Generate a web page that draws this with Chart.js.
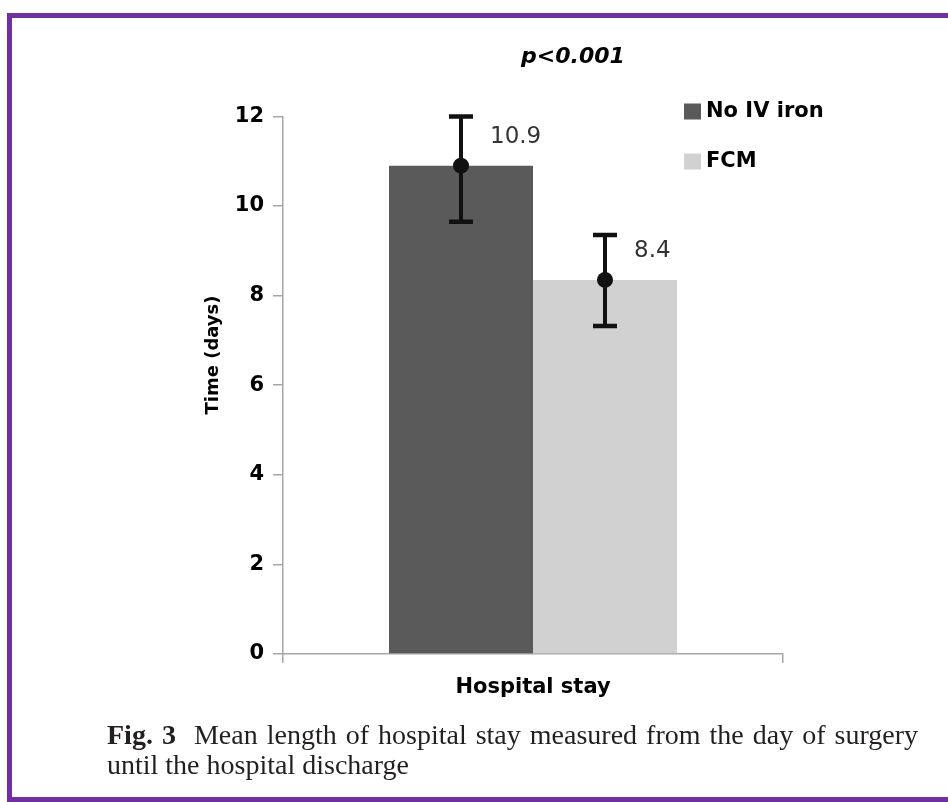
<!DOCTYPE html>
<html>
<head>
<meta charset="utf-8">
<script src="https://cdn.jsdelivr.net/npm/chart.js@4.4.1/dist/chart.umd.min.js"></script>
<style>
  html, body { margin: 0; padding: 0; background: #ffffff; }
  #wrap { position: relative; width: 948px; height: 802px; overflow: hidden; background: #fff; }
  #frame { position: absolute; left: 7px; top: 13px; width: 960px; height: 779px;
           border-top: 5px solid #7030a0; border-left: 5px solid #7030a0; border-bottom: 5px solid #7030a0; }
  canvas { position: absolute; left: 0; top: 0; }
  #caption { position: absolute; left: 107px; top: 720px; width: 811px;
             font-family: "Liberation Serif", "Times New Roman", serif; font-size: 28px; line-height: 30px;
             color: #231f20; }
  #caption .l1 { text-align: justify; text-align-last: justify; white-space: normal; }
  #caption .l2 { text-align: left; }
  #caption b { font-weight: bold; }
</style>
</head>
<body>
<div id="wrap">
  <div id="frame"></div>
  <canvas id="c" width="948" height="802"></canvas>
  <div id="caption"><div class="l1"><b>Fig. 3</b>&nbsp; Mean length of hospital stay measured from the day of surgery</div><div class="l2">until the hospital discharge</div></div>
</div>
<script>
// ---- data ----
const categories = ["Hospital stay"];
const seriesNames = ["No IV iron", "FCM"];
const meanValues = [10.9, 8.35];
const valueLabels = ["10.9", "8.4"];
const errorLow = [9.65, 7.32];
const errorHigh = [12.0, 9.35];
const yTicks = [0, 2, 4, 6, 8, 10, 12];
const pTitle = "p<0.001";
const yTitle = "Time (days)";

const seriesColors = ["#5a5a5a", "#d0d1d0"];
const FONT = "'DejaVu Sans', sans-serif";

const errorBarPlugin = {
  id: "errorBars",
  afterDatasetsDraw(chart) {
    const ctx = chart.ctx;
    const yScale = chart.scales.y;
    chart.data.datasets.forEach((ds, i) => {
      const meta = chart.getDatasetMeta(i);
      meta.data.forEach((bar, j) => {
        const x = bar.x;
        const yLo = yScale.getPixelForValue(ds.errLow[j]);
        const yHi = yScale.getPixelForValue(ds.errHigh[j]);
        const yMean = yScale.getPixelForValue(ds.data[j]);
        ctx.save();
        ctx.strokeStyle = "#111";
        ctx.lineWidth = 4;
        ctx.beginPath();
        ctx.moveTo(x, yLo); ctx.lineTo(x, yHi);
        ctx.stroke();
        ctx.lineWidth = 4.5;
        ctx.beginPath();
        ctx.moveTo(x - 12, yLo); ctx.lineTo(x + 12, yLo);
        ctx.moveTo(x - 12, yHi); ctx.lineTo(x + 12, yHi);
        ctx.stroke();
        ctx.fillStyle = "#111";
        ctx.beginPath();
        ctx.arc(x, yMean, 8, 0, Math.PI * 2);
        ctx.fill();
        // value label
        ctx.fillStyle = "#333";
        ctx.font = "23px " + FONT;
        ctx.textAlign = "left";
        ctx.textBaseline = "middle";
        ctx.fillText(ds.valueLabels[j], x + 29, bar.y - 29);
        ctx.restore();
      });
    });
    // legend
    ctx.save();
    chart.data.datasets.forEach((ds, i) => {
      const cy = 111.5 + i * 50;
      ctx.fillStyle = ds.backgroundColor;
      ctx.fillRect(684, cy - 8, 17, 16);
      ctx.fillStyle = "#000";
      ctx.font = "bold 21px " + FONT;
      ctx.textAlign = "left";
      ctx.textBaseline = "middle";
      ctx.fillText(ds.label, 706, cy);
    });
    // y axis title
    ctx.translate(213, 355);
    ctx.rotate(-Math.PI / 2);
    ctx.fillStyle = "#000";
    ctx.font = "bold 18px " + FONT;
    ctx.textAlign = "center";
    ctx.textBaseline = "middle";
    ctx.fillText(yTitle, 0, 0);
    ctx.restore();
  }
};

new Chart(document.getElementById("c"), {
  type: "bar",
  data: {
    labels: categories,
    datasets: seriesNames.map((name, i) => ({
      label: name,
      data: [meanValues[i]],
      errLow: [errorLow[i]],
      errHigh: [errorHigh[i]],
      valueLabels: [valueLabels[i]],
      backgroundColor: seriesColors[i],
      borderWidth: 0,
      categoryPercentage: 0.576,
      barPercentage: 1.0
    }))
  },
  options: {
    responsive: false,
    devicePixelRatio: 1,
    animation: false,
    layout: { padding: { left: 198, right: 0, top: 0, bottom: 0 } },
    plugins: {
      legend: { display: false },
      tooltip: { enabled: false },
      title: {
        display: true,
        text: pTitle,
        font: { family: FONT, size: 22, weight: "bold", style: "italic" },
        color: "#000",
        padding: { top: 44, bottom: 46 }
      }
    },
    scales: {
      x: {
        offset: true,
        grid: { display: true, drawOnChartArea: false, tickLength: 9, color: "#a6a6a6", lineWidth: 1.5 },
        border: { display: true, color: "#a6a6a6", width: 1.5 },
        ticks: { font: { family: FONT, size: 21, weight: "bold" }, color: "#000", padding: 12 },
        afterFit(s) { s.height = 148; }
      },
      y: {
        min: 0, max: 12,
        afterBuildTicks(s) { s.ticks = yTicks.map(v => ({ value: v })); },
        grid: { display: true, drawOnChartArea: false, tickLength: 10, color: "#a6a6a6", lineWidth: 1.5 },
        border: { display: true, color: "#a6a6a6", width: 1.5 },
        ticks: { font: { family: FONT, size: 21, weight: "bold" }, color: "#000", padding: 9 },
        afterFit(s) { s.width = 85; }
      },
      spacer: {
        type: "linear",
        position: "right",
        min: 0, max: 12,
        grid: { display: false },
        border: { display: false },
        ticks: { display: false },
        afterFit(s) { s.width = 165; }
      }
    }
  },
  plugins: [errorBarPlugin]
});
</script>
</body>
</html>
